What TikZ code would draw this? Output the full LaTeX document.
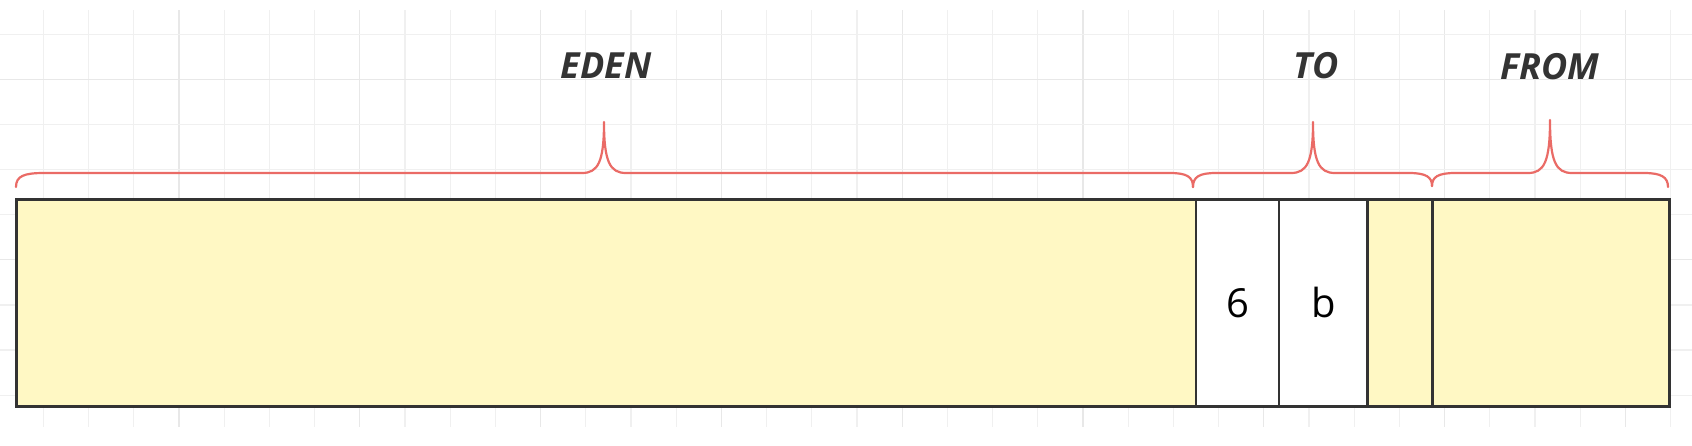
\documentclass[tikz,border=0pt]{standalone}
\usepackage{fontspec}
\setmainfont{Open Sans}
\begin{document}
\begin{tikzpicture}[x=1pt,y=-1pt,
  cellbox/.style={draw=boxline,line width=2.6pt,minimum height=207pt,inner sep=0pt,anchor=north west},
  bracestyle/.style={draw=bracered,line width=2.2pt,line cap=round,line join=round},
  lbl/.style={text=labeltext,font=\fontsize{36}{40}\selectfont\bfseries\itshape,inner sep=0pt,anchor=base},
  celltext/.style={font=\fontsize{40}{44}\selectfont,text=black}]
\definecolor{boxline}{HTML}{333333}
\definecolor{bracered}{HTML}{EA6B66}
\definecolor{labeltext}{HTML}{333333}
\definecolor{cellyellow}{HTML}{FFF8C4}
\definecolor{gridminor}{HTML}{F0F0F0}
\definecolor{gridmajor}{HTML}{E8E8E8}
\useasboundingbox[fill=white] (0,0) rectangle (1692,445);
% grid
\foreach \k in {0,...,36} {
  \pgfmathsetmacro{\gx}{43.3+45.2*\k}
  \pgfmathtruncatemacro{\m}{mod(\k,4)}
  \ifnum\m=3 \def\gc{gridmajor}\else\def\gc{gridminor}\fi
  \draw[\gc,line width=1.2pt] (\gx,10) -- (\gx,427);
}
\foreach \k in {0,...,8} {
  \pgfmathsetmacro{\gy}{34.3+45.1*\k}
  \pgfmathtruncatemacro{\m}{mod(\k,4)}
  \ifnum\m=1 \def\gc{gridmajor}\else\def\gc{gridminor}\fi
  \draw[\gc,line width=1.2pt] (0,\gy) -- (1692,\gy);
}
% memory cells
\node[cellbox,fill=cellyellow,minimum width=1179.6pt] (eden) at (15,198) {};
\node[cellbox,fill=white,minimum width=83.1pt] (c6) at (1194.6,198) {};
\node[cellbox,fill=white,minimum width=88.5pt] (cb) at (1277.7,198) {};
\node[cellbox,fill=cellyellow,minimum width=64.8pt] (tofree) at (1366.2,198) {};
\node[cellbox,fill=cellyellow,minimum width=237pt] (from) at (1431,198) {};
\node[celltext] (t6) at (c6.center) {6};
\node[celltext] (tb) at (cb.center) {b};
% brace anchor points
\coordinate (e1) at (16,187);
\coordinate (e2) at (1193,187);
\coordinate (t2) at (1432,186);
\coordinate (f2) at (1668,187);
% braces
\draw[bracestyle] (e1) .. controls (16,176) and (24,173) .. (44,173)
  -- (582,173) .. controls (598,173) and (604,162) .. (604,122)
  .. controls (604,162) and (610,173) .. (626,173)
  -- (1170,173) .. controls (1187,173) and (1193,177) .. (e2);
\draw[bracestyle] (e2) .. controls (1193,177) and (1199,173) .. (1216,173)
  -- (1291,173) .. controls (1307,173) and (1313,162) .. (1313,122)
  .. controls (1313,162) and (1319,173) .. (1335,173)
  -- (1409,173) .. controls (1426,173) and (1432,177) .. (t2);
\draw[bracestyle] (t2) .. controls (1432,177) and (1438,173) .. (1455,173)
  -- (1528,173) .. controls (1544,173) and (1550,162) .. (1550,120)
  .. controls (1550,162) and (1556,173) .. (1572,173)
  -- (1644,173) .. controls (1661,173) and (1668,177) .. (f2);
% labels
\node[lbl] (leden) at (606,78) {EDEN};
\node[lbl] (lto) at (1316,78) {TO};
\node[lbl] (lfrom) at (1550,79) {FROM};
\end{tikzpicture}
\end{document}
